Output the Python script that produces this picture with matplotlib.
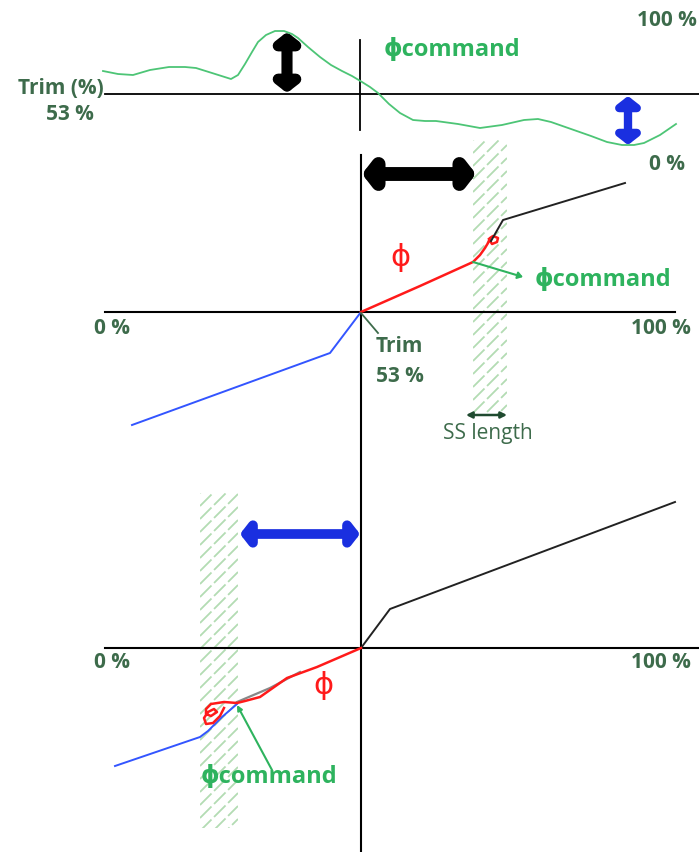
import matplotlib
matplotlib.use("Agg")
import matplotlib.pyplot as plt
from matplotlib.patches import Rectangle, FancyArrowPatch

plt.rcParams['font.family'] = ['Open Sans', 'DejaVu Sans']

# ---------------- data (pixel-space schematic) ----------------
# top panel: commanded angle trace
cmd_x = [103, 118, 133, 150, 169, 185, 196, 212, 231, 238, 245, 252, 258, 266, 275, 284, 292, 298,
         308, 320, 331, 342, 352, 362, 370, 378, 389, 400, 413, 425, 436, 458, 480, 502, 524,
         538, 551, 571, 591, 607, 622, 634, 644, 660, 676]
cmd_y = [71, 74, 75, 70, 67, 67, 68, 73, 79, 75, 64, 52, 42, 35, 31, 31, 34, 38,
         47, 57, 65, 71, 76, 82, 87, 93, 104, 113, 120, 121, 121, 124, 128, 125, 120,
         119, 122, 129, 136, 142, 145, 145, 143, 135, 124]

# middle panel
mid_blue_x = [132, 330, 361]
mid_blue_y = [425, 353, 312]
mid_red_x = [361, 420, 473, 480, 485, 488, 490, 493, 498, 497, 492, 489]
mid_red_y = [312, 286, 262, 255, 248, 243, 238, 236, 238, 242, 244, 239]
mid_black_x = [491, 503, 625]
mid_black_y = [241, 220, 183]

# bottom panel
bot_black_x = [361, 390, 675]
bot_black_y = [648, 609, 502]
bot_red_x = [361, 317, 287, 260, 245, 237, 224, 211, 206, 206, 211, 217, 214, 208, 204, 206, 213, 220, 224]
bot_red_y = [648, 667, 678, 697, 701, 703, 702, 704, 709, 714, 716, 712, 709, 712, 718, 724, 723, 716, 708]
bot_gray_x = [237, 270, 300]
bot_gray_y = [702, 688, 672]
bot_blue_x = [115, 200, 208, 222, 237]
bot_blue_y = [766, 737, 731, 717, 704]

# slow-speed zones: (x0, x1, y0, y1)
zones = [(473, 507, 140, 416), (200, 238, 493, 828)]

DARK = '#3d6b4b'
GREEN_TXT = '#2eb35e'
GREEN_LINE = '#4dc576'
RED = '#ff1a1a'
BLUE = '#3355ff'
ABLUE = '#1a2fe0'
LBL = 15

fig = plt.figure(figsize=(6.99, 8.52), dpi=100)
ax = fig.add_axes([0, 0, 1, 1])
ax.set_xlim(0, 699)
ax.set_ylim(852, 0)
ax.axis('off')

# ---------- hatched slow-speed zones ----------
for (x0, x1, y0, y1) in zones:
    clip = Rectangle((x0, y0), x1 - x0, y1 - y0, facecolor='none', edgecolor='none')
    ax.add_patch(clip)
    w = x1 - x0
    c = y0
    while c < y1 + w + 14:
        ln, = ax.plot([x0, x1], [c, c - w], color='#b3dcb3', lw=1.3,
                      dashes=(9, 2), solid_capstyle='butt')
        ln.set_clip_path(clip)
        c += 13

# ---------- axes lines ----------
ax.plot([360, 360], [40, 130], color='black', lw=1.3)
ax.plot([105, 699], [94, 94], color='black', lw=1.3)
ax.plot([361, 361], [155, 852], color='black', lw=1.5)
ax.plot([105, 675], [312, 312], color='black', lw=1.5)
ax.plot([105, 699], [648, 648], color='black', lw=1.5)

# ---------- top panel ----------
ax.plot(cmd_x, cmd_y, color=GREEN_LINE, lw=1.3)

def dbl_arrow(p0, p1, color, lw, scale, style='<|-|>,head_length=0.35,head_width=0.45'):
    a = FancyArrowPatch(p0, p1, arrowstyle=style, mutation_scale=scale,
                        color=color, lw=lw, shrinkA=0, shrinkB=0)
    ax.add_patch(a)

dbl_arrow((287, 32), (287, 93), 'black', 8, 14)
dbl_arrow((628, 96), (628, 145), ABLUE, 6, 14)

ax.text(104, 88, 'Trim (%)', color=DARK, fontsize=LBL, fontweight='bold', ha='right', va='center')
ax.text(94, 114, '53 %', color=DARK, fontsize=LBL, fontweight='bold', ha='right', va='center')
ax.text(697, 20, '100 %', color=DARK, fontsize=LBL, fontweight='bold', ha='right', va='center')
ax.text(685, 165, '0 %', color=DARK, fontsize=LBL, fontweight='bold', ha='right', va='center')
ax.text(384, 50, '\u03d5command', color=GREEN_TXT, fontsize=17, fontweight='bold', ha='left', va='center')

# ---------- middle panel ----------
dbl_arrow((362, 174), (476, 174), 'black', 10, 16)
ax.plot(mid_blue_x, mid_blue_y, color=BLUE, lw=1.4)
ax.plot(mid_red_x, mid_red_y, color=RED, lw=1.8)
ax.plot(mid_black_x, mid_black_y, color='#222222', lw=1.4)
ax.annotate('', xy=(523, 277), xytext=(473, 262),
            arrowprops=dict(arrowstyle='-|>,head_length=0.3,head_width=0.2', color=GREEN_TXT, lw=1.5,
                            shrinkA=0, shrinkB=0))
ax.plot([361, 378], [313, 333], color=DARK, lw=1.3)
ax.text(376, 346, 'Trim', color=DARK, fontsize=LBL, fontweight='bold', ha='left', va='center')
ax.text(376, 376, '53 %', color=DARK, fontsize=LBL, fontweight='bold', ha='left', va='center')
ax.text(400, 258, '\u03d5', color=RED, fontsize=22, ha='center', va='center')
ax.text(535, 280, '\u03d5command', color=GREEN_TXT, fontsize=17, fontweight='bold', ha='left', va='center')
ax.text(94, 328, '0 %', color=DARK, fontsize=LBL, fontweight='bold', ha='left', va='center')
ax.text(691, 328, '100 %', color=DARK, fontsize=LBL, fontweight='bold', ha='right', va='center')
ax.annotate('', xy=(507, 415), xytext=(466, 415),
            arrowprops=dict(arrowstyle='<|-|>,head_length=0.35,head_width=0.18', color='#1f4a2f', lw=1.8,
                            shrinkA=0, shrinkB=0))
ax.text(488, 433, 'SS length', color=DARK, fontsize=15, ha='center', va='center')

# ---------- bottom panel ----------
dbl_arrow((240, 534), (360, 534), ABLUE, 7, 14)
ax.plot(bot_black_x, bot_black_y, color='#222222', lw=1.4)
ax.plot(bot_gray_x, bot_gray_y, color='#888888', lw=1.6)
ax.plot(bot_blue_x, bot_blue_y, color=BLUE, lw=1.4)
ax.plot(bot_red_x, bot_red_y, color=RED, lw=1.8)
ax.annotate('', xy=(237, 705), xytext=(272, 770),
            arrowprops=dict(arrowstyle='-|>,head_length=0.3,head_width=0.15', color=GREEN_TXT, lw=1.5,
                            shrinkA=0, shrinkB=0))
ax.text(323, 686, '\u03d5', color=RED, fontsize=22, ha='center', va='center')
ax.text(201, 777, '\u03d5command', color=GREEN_TXT, fontsize=17, fontweight='bold', ha='left', va='center')
ax.text(94, 662, '0 %', color=DARK, fontsize=LBL, fontweight='bold', ha='left', va='center')
ax.text(691, 662, '100 %', color=DARK, fontsize=LBL, fontweight='bold', ha='right', va='center')

fig.savefig('out.png', dpi=100)
